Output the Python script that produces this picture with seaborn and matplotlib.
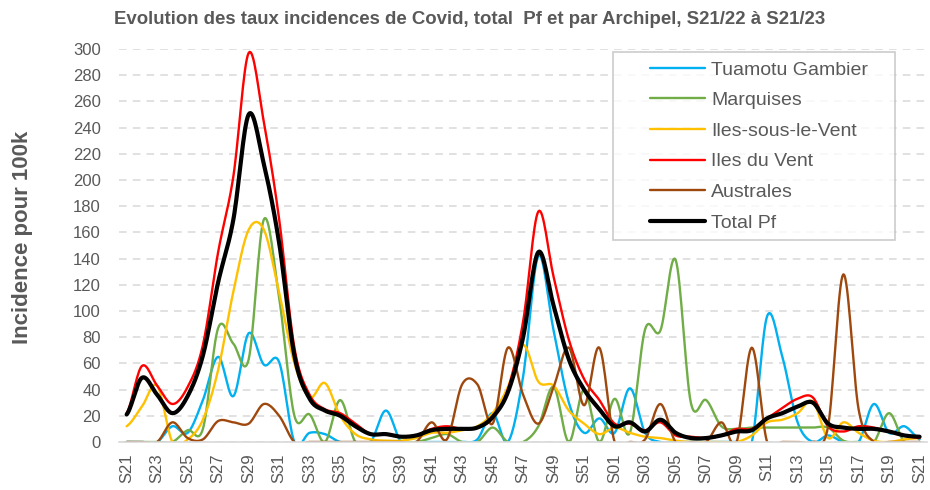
import numpy as np
import matplotlib
matplotlib.use("Agg")
import matplotlib.pyplot as plt
from matplotlib.legend_handler import HandlerLine2D
import seaborn as sns

# --- données (S21/22 -> S21/23) ---
weeks = [f"S{w:02d}" for w in range(21, 53)] + [f"S{w:02d}" for w in range(1, 22)]

tuamotu = [0, 0, 0, 12, 7, 32, 65, 35, 83, 59, 61, 0, 7, 6, 0, 0, 0, 24, 0, 0,
           0, 0, 0, 2, 22, 0, 50, 142, 85, 30, 7, 18, 7, 41, 7, 0, 0, 0, 0, 0,
           0, 0, 96, 65, 15, 0, 5, 0, 0, 29, 7, 12, 2]
marquises = [0, 0, 0, 0, 9, 10, 87, 75, 63, 170, 110, 20, 21, 0, 32, 0, 0, 0, 0, 0,
             3, 6, 0, 0, 11, 0, 0, 12, 42, 0, 40, 0, 33, 7, 86, 85, 139, 30, 32, 12,
             10, 11, 11, 11, 11, 11, 11, 1, 0, 0, 22, 0, 0]
islv = [12, 27, 43, 0, 2, 17, 55, 115, 162, 162, 114, 60, 34, 45, 20, 6, 2, 1, 1, 3,
        7, 7, 9, 12, 22, 42, 74, 46, 43, 24, 14, 6, 11, 7, 4, 3, 1, 0, 0, 0,
        0, 5, 15, 17, 22, 31, 3, 15, 7, 1, 0, 2, 3]
idv = [22, 58, 43, 29, 42, 74, 145, 203, 297, 244, 170, 72, 36, 25, 22, 14, 6, 6, 4, 5,
       10, 12, 10, 11, 18, 40, 92, 176, 126, 78, 48, 32, 14, 14, 9, 15, 5, 4, 3, 5,
       10, 10, 18, 26, 33, 34, 12, 8, 12, 11, 8, 5, 3]
australes = [0, 0, 0, 15, 3, 2, 16, 15, 14, 29, 20, 0, 0, 0, 0, 0, 0, 0, 0, 0,
             15, 2, 44, 44, 14, 72, 36, 14, 42, 72, 28, 72, 0, 0, 2, 29, 0, 0, 0, 15,
             0, 72, 0, 0, 0, 0, 12, 128, 25, 0, 0, 0, 0]
total = [21, 49, 36, 22, 35, 66, 122, 170, 250, 212, 152, 66, 33, 24, 20, 12, 6, 6, 4, 5,
         9, 10, 10, 11, 19, 38, 80, 145, 104, 63, 40, 25, 12, 15, 8, 17, 7, 3, 3, 5,
         8, 9, 18, 22, 27, 30, 14, 11, 10, 10, 8, 5, 4]

series = [
    ("Tuamotu Gambier", tuamotu, "#00B0F0", 1.7),
    ("Marquises", marquises, "#70AD47", 1.7),
    ("Iles-sous-le-Vent", islv, "#FFC000", 1.7),
    ("Iles du Vent", idv, "#FF0000", 1.7),
    ("Australes", australes, "#9E480E", 1.7),
    ("Total Pf", total, "#000000", 3.0),
]


def smooth(y, n=16):
    # lissage type Excel (Catmull-Rom uniforme)
    y = np.asarray(y, float)
    p = np.concatenate([[y[0]], y, [y[-1]]])
    t = np.linspace(0, 1, n, endpoint=False)
    xs, ys = [], []
    for i in range(len(y) - 1):
        p0, p1, p2, p3 = p[i:i + 4]
        ys.append(0.5 * (2 * p1 + (p2 - p0) * t
                         + (2 * p0 - 5 * p1 + 4 * p2 - p3) * t ** 2
                         + (-p0 + 3 * p1 - 3 * p2 + p3) * t ** 3))
        xs.append(i + t)
    xs.append([len(y) - 1])
    ys.append([y[-1]])
    return np.concatenate(xs), np.concatenate(ys)


sns.set_style("white")
plt.rcParams['font.family'] = ['Liberation Sans', 'DejaVu Sans']
grey = "#595959"

fig = plt.figure(figsize=(9.3, 4.9), dpi=100)
ax = fig.add_axes([0.128, 0.098, 0.869, 0.802])

for name, vals, col, lw in series:
    xs, ys = smooth(vals)
    sns.lineplot(x=xs, y=ys, ax=ax, color=col, linewidth=lw, label=name,
                 estimator=None, sort=False)

ax.set_xlim(-0.5, len(weeks) - 0.5)
ax.set_ylim(0, 300)
ax.set_yticks(range(0, 301, 20))
ax.set_xticks(range(0, len(weeks), 2))
ax.set_xticklabels(weeks[::2], rotation=90)
ax.tick_params(axis="both", length=0, colors=grey, labelsize=12)
ax.tick_params(axis="x", pad=8)
ax.tick_params(axis="y", pad=13)
ax.yaxis.grid(True, color="#D9D9D9", linestyle=(0, (5, 4)), linewidth=1.1)
ax.set_axisbelow(True)
for s in ["left", "right", "top"]:
    ax.spines[s].set_visible(False)
ax.spines["bottom"].set_color("#D9D9D9")
ax.spines["bottom"].set_linewidth(1.2)

ax.set_xlabel("")
ax.set_ylabel("Incidence pour 100k", fontsize=16, fontweight="bold", color=grey)
ax.yaxis.set_label_coords(-0.106, 0.52)
fig.suptitle("Evolution des taux incidences de Covid, total  Pf et par Archipel, S21/22 à S21/23",
             x=0.505, y=0.978, fontsize=13.4, fontweight="bold", color=grey)

handles, labels = ax.get_legend_handles_labels()
leg = ax.legend(handles, labels, loc="upper left",
                bbox_to_anchor=(0.611, 0.5, 0.349, 0.492), mode="expand",
                borderaxespad=0, fontsize=14, frameon=True, fancybox=False,
                handlelength=4.3, handletextpad=0.3, labelspacing=0.67,
                borderpad=0.45, labelcolor=grey,
                handler_map={h: HandlerLine2D(xpad=1.47) for h in handles})
leg.get_frame().set_edgecolor("#BFBFBF")
leg.get_frame().set_linewidth(1.2)

fig.savefig("out.png", dpi=100)
